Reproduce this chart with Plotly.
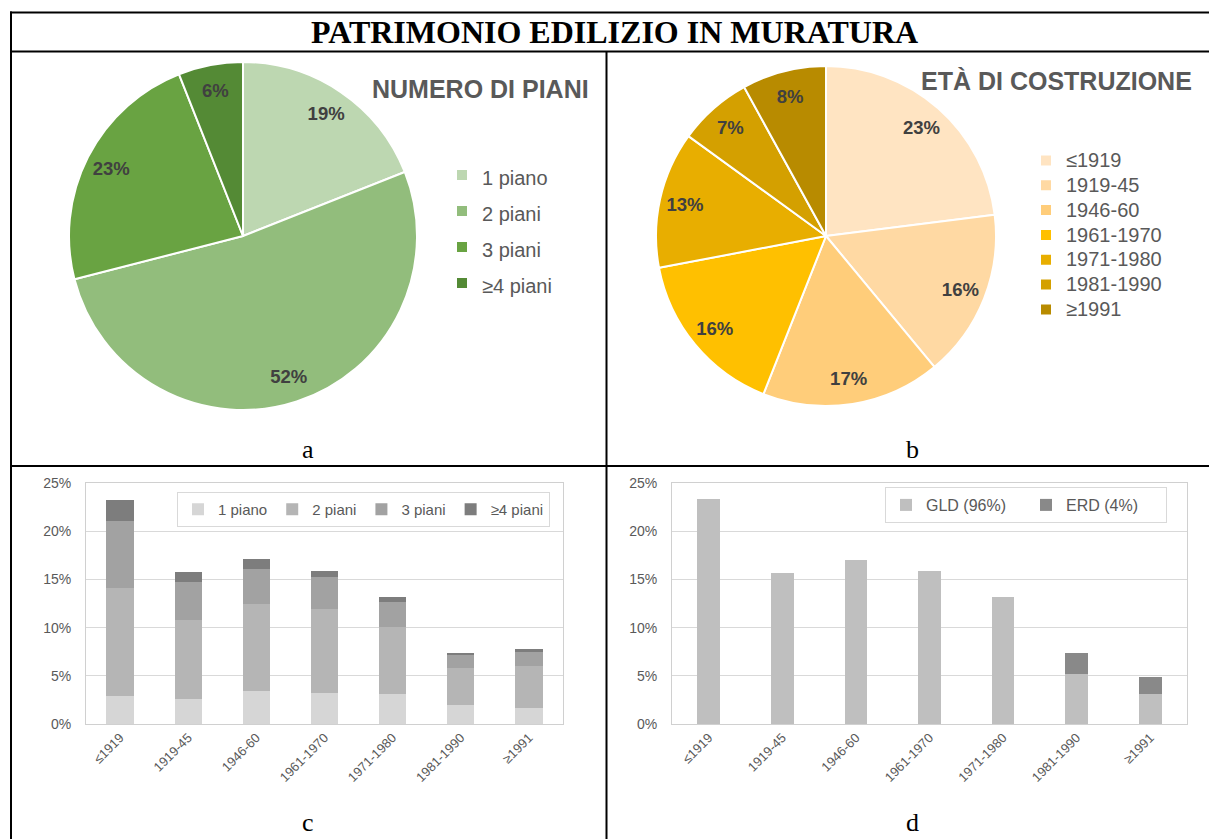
import plotly.graph_objects as go

W, H = 1209, 839


def fx(x):
    return x / W


def fy(y):
    return 1 - y / H


# ---------------- data ----------------
floors_labels = ["1 piano", "2 piani", "3 piani", "≥4 piani"]
floors_share = [19, 52, 23, 6]
floors_colors = ["#BDD7B1", "#92BD7C", "#69A342", "#548A35"]

age_labels = ["≤1919", "1919-45", "1946-60", "1961-1970", "1971-1980", "1981-1990", "≥1991"]
age_share = [23, 16, 17, 16, 13, 7, 8]
age_colors = ["#FFE4C2", "#FFD9A3", "#FFCD7A", "#FFC000", "#E8AE00", "#D4A000", "#B88B00"]

piano1 = [2.9, 2.6, 3.4, 3.25, 3.1, 2.0, 1.7]
piani2 = [11.2, 8.2, 9.0, 8.65, 7.0, 3.8, 4.35]
piani3 = [7.0, 3.9, 3.7, 3.3, 2.6, 1.4, 1.45]
piani4 = [2.1, 1.1, 1.0, 0.7, 0.5, 0.2, 0.3]
stack_names = ["1 piano", "2 piani", "3 piani", "≥4 piani"]
stack_colors = ["#D6D6D6", "#B5B5B5", "#A2A2A2", "#7D7D7D"]

gld = [23.3, 15.7, 17.0, 15.9, 13.2, 5.2, 3.1]
erd = [0, 0, 0, 0, 0, 2.2, 1.8]
type_names = ["GLD (96%)", "ERD (4%)"]
type_colors = ["#BFBFBF", "#898989"]

GRAY = "#595959"
LABEL = "#404040"
fig = go.Figure()


def span(t, size):
    return f'<span style="font-size:{size}px">{t}</span>'


# ---------------- pies ----------------
pie_a_dom = dict(x=[fx(69), fx(417)], y=[fy(410), fy(62)])
pie_b_dom = dict(x=[fx(656), fx(996)], y=[fy(406), fy(66)])

fig.add_trace(go.Pie(
    labels=[span(l, 20) for l in floors_labels],
    values=floors_share, sort=False, direction="clockwise", rotation=0,
    marker=dict(colors=floors_colors, line=dict(color="white", width=2)),
    textinfo="none", domain=pie_a_dom, legend="legend", hoverinfo="label+percent",
))
# label ring (transparent) so that percentages sit near the rim, as in Excel
fig.add_trace(go.Pie(
    labels=floors_labels, values=floors_share, sort=False, direction="clockwise", rotation=0,
    hole=0.7, marker=dict(colors=["rgba(0,0,0,0)"] * 4, line=dict(width=0)),
    texttemplate="<b>%{percent:.0%}</b>", textposition="inside",
    insidetextorientation="horizontal",
    textfont=dict(family="Arial", size=18.5, color=LABEL),
    domain=pie_a_dom, showlegend=False, hoverinfo="skip",
))

fig.add_trace(go.Pie(
    labels=[span(l, 20) for l in age_labels],
    values=age_share, sort=False, direction="clockwise", rotation=0,
    marker=dict(colors=age_colors, line=dict(color="white", width=2)),
    textinfo="none", domain=pie_b_dom, legend="legend2", hoverinfo="label+percent",
))
fig.add_trace(go.Pie(
    labels=age_labels, values=age_share, sort=False, direction="clockwise", rotation=0,
    hole=0.7, marker=dict(colors=["rgba(0,0,0,0)"] * 7, line=dict(width=0)),
    texttemplate="<b>%{percent:.0%}</b>", textposition="inside",
    insidetextorientation="horizontal",
    textfont=dict(family="Arial", size=18.5, color=LABEL),
    domain=pie_b_dom, showlegend=False, hoverinfo="skip",
))

# ---------------- bars c ----------------
for name, vals, col in zip(stack_names, [piano1, piani2, piani3, piani4], stack_colors):
    fig.add_trace(go.Bar(x=age_labels, y=vals, name=name, marker=dict(color=col, line=dict(width=0)),
                         width=0.4, xaxis="x", yaxis="y", legend="legend3"))

# ---------------- bars d ----------------
for name, vals, col in zip(type_names, [gld, erd], type_colors):
    fig.add_trace(go.Bar(x=age_labels, y=vals, name=name, marker=dict(color=col, line=dict(width=0)),
                         width=0.31, xaxis="x2", yaxis="y2", legend="legend4"))

axis_common = dict(showline=True, linecolor="#D0D0D0", linewidth=1, mirror=True,
                   tickfont=dict(family="Arial", size=13, color=GRAY), ticks="",
                   zeroline=False)
yaxis_common = dict(range=[0, 25], dtick=5, ticksuffix="%", showgrid=True,
                    gridcolor="#D9D9D9", showline=True, linecolor="#D0D0D0", mirror=True,
                    tickfont=dict(family="Arial", size=14, color=GRAY), ticks="",
                    zeroline=False, ticklabelstandoff=11)

fig.update_layout(
    width=W, height=H, margin=dict(l=0, r=0, t=0, b=0, autoexpand=False),
    paper_bgcolor="white", plot_bgcolor="white",
    barmode="stack", showlegend=True,
    font=dict(family="Arial", color=GRAY),
    xaxis=dict(domain=[fx(86), fx(563)], anchor="y", tickangle=-45, **axis_common),
    yaxis=dict(domain=[fy(724), fy(483)], anchor="x", **yaxis_common),
    xaxis2=dict(domain=[fx(672), fx(1187)], anchor="y2", tickangle=-45, **axis_common),
    yaxis2=dict(domain=[fy(724), fy(483)], anchor="x2", **yaxis_common),
    legend=dict(x=fx(442), y=fy(152), xanchor="left", yanchor="top",
                font=dict(family="Arial", size=25.4, color=GRAY), bgcolor="rgba(0,0,0,0)"),
    legend2=dict(x=fx(1026), y=fy(143), xanchor="left", yanchor="top",
                 font=dict(family="Arial", size=16.8, color=GRAY), bgcolor="rgba(0,0,0,0)"),
    legend3=dict(orientation="h", x=fx(177), y=fy(492), xanchor="left", yanchor="top",
                 bordercolor="#D9D9D9", borderwidth=1, bgcolor="white",
                 traceorder="normal",
                 font=dict(family="Arial", size=15, color=GRAY)),
    legend4=dict(orientation="h", x=fx(885), y=fy(487), xanchor="left", yanchor="top",
                 bordercolor="#D9D9D9", borderwidth=1, bgcolor="white", entrywidth=95,
                 traceorder="normal",
                 font=dict(family="Arial", size=16, color=GRAY)),
)

# ---------------- table borders ----------------
line = dict(color="black", width=2)
shapes = [
    dict(type="line", xref="paper", yref="paper", x0=fx(10), x1=1, y0=fy(12.5), y1=fy(12.5), line=line),
    dict(type="line", xref="paper", yref="paper", x0=fx(10), x1=1, y0=fy(51.5), y1=fy(51.5), line=line),
    dict(type="line", xref="paper", yref="paper", x0=fx(10), x1=1, y0=fy(466), y1=fy(466), line=line),
    dict(type="line", xref="paper", yref="paper", x0=fx(11), x1=fx(11), y0=fy(11.5), y1=0, line=line),
    dict(type="line", xref="paper", yref="paper", x0=fx(606.5), x1=fx(606.5), y0=fy(51), y1=0, line=line),
]
fig.update_layout(shapes=shapes)

serif = "Liberation Serif, Times New Roman, serif"
ann = [
    dict(text="<b>PATRIMONIO EDILIZIO IN MURATURA</b>", x=fx(614.5), y=fy(32),
         font=dict(family=serif, size=32, color="black")),
    dict(text="<b>NUMERO DI PIANI</b>", x=fx(480), y=fy(89),
         font=dict(family="Arial", size=25, color=GRAY)),
    dict(text="<b>ETÀ DI COSTRUZIONE</b>", x=fx(1056), y=fy(81),
         font=dict(family="Arial", size=25, color=GRAY)),
    dict(text="a", x=fx(308), y=fy(449), font=dict(family=serif, size=26, color="black")),
    dict(text="b", x=fx(912), y=fy(449), font=dict(family=serif, size=26, color="black")),
]
for a in ann:
    a.update(yanchor="middle")
ann += [
    dict(text="c", x=fx(308), y=0, yanchor="bottom", font=dict(family=serif, size=26, color="black")),
    dict(text="d", x=fx(912), y=0, yanchor="bottom", font=dict(family=serif, size=26, color="black")),
]
for a in ann:
    a.update(xref="paper", yref="paper", showarrow=False, xanchor="center")
fig.update_layout(annotations=ann, uniformtext=dict(minsize=18.5, mode="show"))

fig.write_html("out.html", config={"displayModeBar": False},
               post_script="document.body.style.margin='0';")
